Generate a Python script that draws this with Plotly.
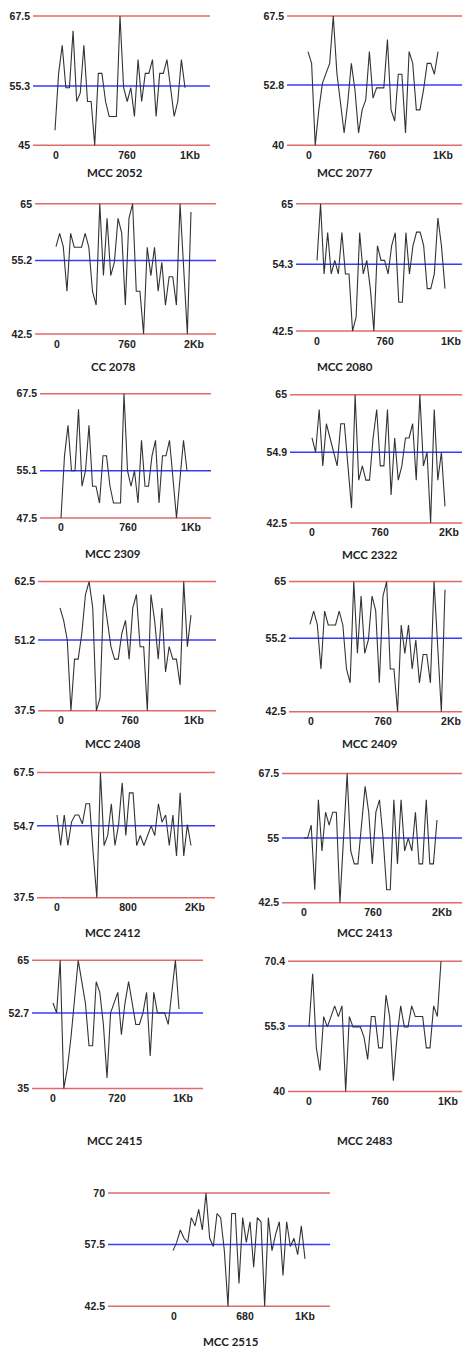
import plotly.graph_objects as go

# ---------------- data ----------------
titles = ["MCC 2052", "MCC 2077", "CC 2078", "MCC 2080", "MCC 2309", "MCC 2322",
          "MCC 2408", "MCC 2409", "MCC 2412", "MCC 2413", "MCC 2415", "MCC 2483", "MCC 2515"]

# y tick values: low, mean, high
y_low = [45, 40, 42.5, 42.5, 47.5, 42.5, 37.5, 42.5, 37.5, 42.5, 35, 40, 42.5]
y_mid = [55.3, 52.8, 55.2, 54.3, 55.1, 54.9, 51.2, 55.2, 54.7, 55, 52.7, 55.3, 57.5]
y_high = [67.5, 67.5, 65, 65, 67.5, 65, 62.5, 65, 67.5, 67.5, 65, 70.4, 70]

x_tick_labels = [["0", "760", "1Kb"], ["0", "760", "1Kb"], ["0", "760", "2Kb"], ["0", "760", "1Kb"],
                 ["0", "760", "1Kb"], ["0", "760", "2Kb"], ["0", "760", "1Kb"], ["0", "760", "2Kb"],
                 ["0", "800", "2Kb"], ["0", "760", "2Kb"], ["0", "720", "1Kb"], ["0", "760", "1Kb"],
                 ["0", "680", "1Kb"]]

mcc2052 = [47.6, 57.5, 62.4, 55, 55, 64.9, 52.6, 54.1, 62.4, 52.6, 52.6, 45, 57.5, 57.5, 52.6, 50, 50, 50,
           67.5, 55, 52.6, 55, 50, 59.9, 52.6, 57.5, 57.5, 59.9, 50, 57.5, 57.5, 59.9, 55, 50, 52.6, 59.9, 55]
mcc2077 = [59.9, 57.4, 40, 47.5, 53.2, 55.3, 57.4, 67.5, 55.3, 49.0, 42.6, 49.0, 57.4, 51.8, 42.6, 47.5,
           49.7, 59.9, 50.0, 52.2, 52.2, 52.2, 62.5, 47.5, 45.1, 55.1, 55.1, 42.6, 59.9, 57.4, 47.5, 47.5,
           51.8, 57.4, 57.4, 55.1, 59.9]
cc2078 = [57.6, 59.9, 57.6, 49.9, 59.9, 57.5, 57.5, 57.5, 59.9, 57.5, 49.9, 47.5, 65, 52.6, 62.5, 52.6,
          54.9, 62.5, 60.0, 47.5, 62.5, 65, 49.9, 49.9, 42.5, 57.5, 52.6, 57.5, 49.9, 54.9, 47.5, 52.4,
          52.4, 47.5, 65, 53.8, 42.5, 63.6]
mcc2080 = [55.0, 65, 52.6, 59.9, 52.6, 55, 52.6, 59.9, 52.6, 52.6, 42.5, 45.0, 59.9, 52.6, 55, 50, 42.5,
           57.6, 55, 55, 52.6, 57.6, 59.9, 47.6, 47.6, 59.9, 52.6, 57.6, 60, 60, 57.6, 50, 50, 52.6, 62.5,
           57.6, 50]
mcc2309 = [47.5, 57.5, 62.4, 55.1, 55.1, 65.0, 52.6, 55.1, 62.4, 52.6, 52.6, 49.9, 57.5, 57.5, 52.6, 49.9,
           49.9, 49.9, 67.5, 55.1, 52.6, 55.1, 49.9, 60.0, 52.6, 52.6, 57.5, 60.0, 49.9, 57.5, 57.5, 60.0,
           53.8, 47.5, 53.8, 60.0, 55.1]
mcc2322 = [57.4, 54.9, 62.4, 52.5, 59.9, 57.4, 55.0, 52.5, 59.9, 59.9, 52.5, 45.1, 65, 50, 52.5, 50, 50,
           57.4, 62.4, 52.5, 52.5, 62.4, 47.4, 57.4, 50, 52.5, 57.4, 57.4, 59.9, 50, 65, 52.5, 54.9, 42.5,
           62.4, 50, 54.9, 45.4]
mcc2408 = [57.4, 55.0, 51.2, 37.5, 47.5, 47.5, 52.5, 60.0, 62.5, 57.4, 37.5, 40, 60, 55, 49.9, 47.5, 47.5,
           52.5, 55, 47.5, 57.4, 60, 49.9, 49.9, 37.5, 60, 55, 47.5, 57.4, 45, 49.9, 47.5, 47.5, 42.5, 62.5,
           49.9, 56]
mcc2409 = [57.6, 59.9, 57.6, 49.9, 59.9, 57.5, 57.5, 57.5, 59.9, 57.5, 49.9, 47.5, 65, 52.6, 62.5, 52.6,
           54.9, 62.5, 60.0, 47.5, 62.5, 65, 49.9, 49.9, 42.5, 57.5, 52.6, 57.5, 49.9, 54.9, 47.5, 52.4,
           52.4, 47.5, 65, 53.8, 42.5, 63.6]
mcc2412 = [57.3, 50, 57.3, 50, 55.6, 57.3, 57.3, 55.2, 60, 60, 48, 37.5, 67.5, 50, 52.4, 60, 50, 55, 65,
           52.4, 62.6, 62.6, 50, 52.4, 50, 52.4, 54.7, 52.4, 60, 55.6, 57.3, 50, 57.3, 47.5, 62.6, 47.5,
           55, 50]
mcc2413 = [55, 55, 57.5, 45, 62.4, 52.5, 60, 57.5, 60, 60, 42.5, 55, 67.5, 52.5, 50, 50, 57.5, 65, 60, 50,
           60, 62.4, 55, 45, 45, 62.4, 50, 62.4, 52.5, 55, 52.5, 60, 50, 50, 62.4, 50, 50, 58.5]
mcc2415 = [55.0, 52.7, 65, 35, 39.8, 47, 56, 65, 60, 55, 45, 45, 60, 57.5, 50, 37.5, 52.7, 55, 57.5, 47.6,
           55, 60, 55, 50, 50, 52.7, 57.5, 42.6, 57.5, 52.7, 52.7, 52.7, 50, 57.5, 65, 53.6]
mcc2483 = [55.1, 67.5, 50.2, 44.9, 57.5, 55.1, 57.5, 60, 57.5, 60, 40, 57.5, 55.1, 55.1, 55.1, 52.7, 47.5,
           57.5, 57.5, 50.2, 50.2, 62.5, 57.5, 42.5, 52.7, 60, 55.1, 55.1, 60, 57.5, 57.5, 57.5, 50.2,
           50.2, 60, 57.5, 70.4]
mcc2515 = [56, 58, 61, 59, 58, 64, 62, 66, 61, 70, 59, 57, 65, 64, 56, 42.5, 65, 65, 48, 64, 58, 63, 52,
           64, 63, 42.5, 64, 56, 60, 63, 50, 63, 57, 59, 55, 62, 54]

series = [mcc2052, mcc2077, cc2078, mcc2080, mcc2309, mcc2322, mcc2408, mcc2409,
          mcc2412, mcc2413, mcc2415, mcc2483, mcc2515]

# ---------------- layout geometry (pixels) ----------------
W, H = 462, 1353
# (red-line left, red-line right, top, bottom, data start, data end, tick px positions, title x, title y)
geom = [
    (33, 210, 12, 142, 55, 185, (56, 127, 190), 115, 170),
    (287, 462, 12, 142, 308, 438, (309, 377, 443), 345, 170),
    (35, 216, 201, 332, 56, 191, (57, 127, 194), 113, 365),
    (296, 462, 201, 329, 317, 445, (317, 385, 451), 345, 365),
    (40, 211, 392, 517, 61, 187, (61, 128, 191), 113, 553),
    (290, 462, 393, 522, 312, 445, (312, 380, 449), 370, 554),
    (38, 216, 581, 711, 60, 191, (61, 130, 194), 113, 744),
    (289, 462, 581, 712, 310, 445, (311, 383, 451), 370, 744),
    (37, 215, 773, 899, 57, 191, (57, 128, 195), 113, 934),
    (282, 462, 774, 904, 304, 437, (304, 373, 442), 365, 934),
    (32, 203, 962, 1091, 53, 179, (53, 117, 183), 115, 1143),
    (288, 462, 963, 1094, 309, 441, (309, 380, 448), 365, 1143),
    (108, 330, 1196, 1310, 173, 305, (174, 245, 305), 231, 1345),
]

RED = "#e26a6a"
BLUE = "#3a3aff"
LINE = "#333333"
TICK_FONT = dict(family="Liberation Sans, Arial, sans-serif", size=10.5, color="#222222", weight="bold")
TITLE_FONT = dict(family="Lato, Open Sans, sans-serif", size=11.5, color="#222222", weight="bold")

fig = go.Figure()
layout = dict(width=W, height=H, margin=dict(l=0, r=0, t=0, b=0),
              paper_bgcolor="white", plot_bgcolor="rgba(0,0,0,0)", showlegend=False)
shapes = []
annotations = []

for i, (ys, g) in enumerate(zip(series, geom)):
    xl, xr, yt, yb, ds, de, tpx, tx, ty = g
    n = len(ys)
    s = (n - 1) / (de - ds)
    xr0 = -(ds - xl) * s
    xr1 = (n - 1) + (xr - de) * s
    lo, hi = y_low[i], y_high[i]
    pad = 2
    k = (hi - lo) / (yb - yt)
    yr0, yr1 = lo - pad * k, hi + pad * k
    xa = "xaxis" if i == 0 else f"xaxis{i+1}"
    ya = "yaxis" if i == 0 else f"yaxis{i+1}"
    xref = "x" if i == 0 else f"x{i+1}"
    yref = "y" if i == 0 else f"y{i+1}"
    layout[xa] = dict(domain=[xl / W, min(xr / W, 1)], range=[xr0, xr1], anchor=yref,
                      showgrid=False, zeroline=False, showline=False, ticks="",
                      tickmode="array", tickvals=[(p - ds) * s for p in tpx],
                      ticktext=x_tick_labels[i], tickfont=TICK_FONT, fixedrange=True)
    layout[ya] = dict(domain=[1 - (yb + pad) / H, 1 - (yt - pad) / H], range=[yr0, yr1], anchor=xref,
                      showgrid=False, zeroline=False, showline=False, ticks="",
                      tickmode="array", tickvals=[lo, y_mid[i], hi],
                      ticktext=[f"{v:g}" for v in (lo, y_mid[i], hi)], tickfont=TICK_FONT,
                      ticklabelstandoff=2, fixedrange=True)
    for yv, col in ((hi, RED), (y_mid[i], BLUE), (lo, RED)):
        shapes.append(dict(type="line", xref=f"{xref} domain", yref=yref, x0=0, x1=1, y0=yv, y1=yv,
                           line=dict(color=col, width=1.5), layer="below"))
    fig.add_trace(go.Scatter(x=list(range(n)), y=ys, mode="lines", xaxis=xref, yaxis=yref,
                             line=dict(color=LINE, width=1.1), hoverinfo="skip"))
    annotations.append(dict(text=titles[i], x=tx / W, y=1 - ty / H, xref="paper", yref="paper",
                            showarrow=False, font=TITLE_FONT, xanchor="center", yanchor="middle"))

layout["shapes"] = shapes
layout["annotations"] = annotations
fig.update_layout(**layout)
fig.write_html("out.html", config={"displayModeBar": False},
               post_script="document.body.style.margin='0';document.body.style.overflow='hidden';")
